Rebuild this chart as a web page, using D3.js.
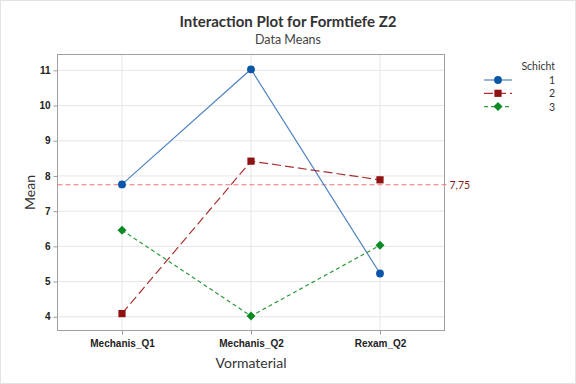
<!DOCTYPE html>
<html><head><meta charset="utf-8">
<script src="https://cdn.jsdelivr.net/npm/d3@7"></script>
<style>body{margin:0;background:#fff}svg{display:block;font-family:"Lato","Noto Sans",sans-serif}</style>
</head><body><svg id="c" width="576" height="384"></svg>
<script>
const categories = ["Mechanis_Q1","Mechanis_Q2","Rexam_Q2"];
const seriesNames = ["1","2","3"];
const values1 = [7.76, 11.03, 5.23];
const values2 = [4.09, 8.42, 7.89];
const values3 = [6.46, 4.02, 6.03];
const yTicks = [4,5,6,7,8,9,10,11];
const refValue = 7.75;
const refLabel = "7,75";

const diamond = {draw(ctx, size){const r=Math.sqrt(size)/2*1.25; ctx.moveTo(0,-r);ctx.lineTo(r,0);ctx.lineTo(0,r);ctx.lineTo(-r,0);ctx.closePath();}};
const series = [
  {name: seriesNames[0], vals: values1, line:"#4f83c3", mark:"#0a55a8", dash:null, shape:d3.symbolCircle, size:48},
  {name: seriesNames[1], vals: values2, line:"#a83232", mark:"#8f1212", dash:"9,4", shape:d3.symbolSquare, size:52},
  {name: seriesNames[2], vals: values3, line:"#2c9a3c", mark:"#0c8a26", dash:"4,3", shape:diamond, size:52}
];

const svg = d3.select("#c");
const m = {l:57.5, r:444.5, t:54.5, b:330.5};
svg.append("rect").attr("x",0.5).attr("y",0.5).attr("width",575).attr("height",383).attr("fill","#fff").attr("stroke","#e3e3e3");

const x = d3.scalePoint().domain(categories).range([m.l,m.r]).padding(0.5);
const y = d3.scaleLinear().domain([3.61,11.45]).range([m.b,m.t]);

const g = svg.append("g");
g.selectAll(".gy").data(yTicks).join("line").attr("x1",m.l).attr("x2",m.r)
 .attr("y1",d=>y(d)).attr("y2",d=>y(d)).attr("stroke","#e6e6e6");
g.selectAll(".gx").data(categories).join("line").attr("y1",m.t).attr("y2",m.b)
 .attr("x1",d=>x(d)).attr("x2",d=>x(d)).attr("stroke","#e6e6e6");

const ya = svg.append("g").attr("transform",`translate(${m.l},0)`).call(d3.axisLeft(y).tickValues(yTicks).tickSize(4).tickPadding(3));
const xa = svg.append("g").attr("transform",`translate(0,${m.b})`).call(d3.axisBottom(x).tickSize(4).tickPadding(5));
[ya,xa].forEach(a=>{a.select(".domain").remove();a.selectAll("line").attr("stroke","#999");a.selectAll("text").attr("fill","#222").attr("font-size",10).attr("font-weight",600);});
svg.append("rect").attr("x",m.l).attr("y",m.t).attr("width",m.r-m.l).attr("height",m.b-m.t).attr("fill","none").attr("stroke","#a0a0a0");

svg.append("line").attr("x1",m.l).attr("x2",m.r+3).attr("y1",y(refValue)).attr("y2",y(refValue))
 .attr("stroke","#ee7777").attr("stroke-dasharray","5,3").attr("stroke-width",1.2);
svg.append("text").attr("x",m.r+5).attr("y",y(refValue)+4).attr("fill","#8a1a1a").attr("font-size",10.5).text(refLabel);

const line = d3.line().x((d,i)=>x(categories[i])).y(d=>y(d));
series.forEach(s=>{
  svg.append("path").attr("d",line(s.vals)).attr("fill","none").attr("stroke",s.line).attr("stroke-width",1.2)
   .attr("stroke-dasharray",s.dash);
});
series.forEach(s=>{
  svg.selectAll(null).data(s.vals).join("path")
   .attr("transform",(d,i)=>`translate(${x(categories[i])},${y(d)})`)
   .attr("d",d3.symbol().type(s.shape).size(s.size)).attr("fill",s.mark);
});

svg.append("text").attr("x",288).attr("y",27).attr("text-anchor","middle").attr("font-size",15).attr("font-weight",700).attr("fill","#333").text("Interaction Plot for Formtiefe Z2");
svg.append("text").attr("x",288).attr("y",43.5).attr("text-anchor","middle").attr("font-size",12.5).attr("fill","#444").text("Data Means");
svg.append("text").attr("x",(m.l+m.r)/2).attr("y",368).attr("text-anchor","middle").attr("font-size",14).attr("fill","#333").text("Vormaterial");
svg.append("text").attr("transform",`translate(35,${(m.t+m.b)/2}) rotate(-90)`).attr("text-anchor","middle").attr("font-size",14).attr("fill","#333").text("Mean");

svg.append("text").attr("x",555).attr("y",70).attr("text-anchor","end").attr("font-size",10.5).attr("fill","#333").text("Schicht");
series.forEach((s,i)=>{
  const yy = 80 + i*13.3;
  svg.append("line").attr("x1",484).attr("x2",512).attr("y1",yy).attr("y2",yy).attr("stroke",s.line).attr("stroke-width",1.2).attr("stroke-dasharray",s.dash);
  svg.append("path").attr("transform",`translate(498,${yy})`).attr("d",d3.symbol().type(s.shape).size(s.size)).attr("fill",s.mark);
  svg.append("text").attr("x",555).attr("y",yy+4).attr("text-anchor","end").attr("font-size",10.5).attr("fill","#333").text(s.name);
});
</script></body></html>
